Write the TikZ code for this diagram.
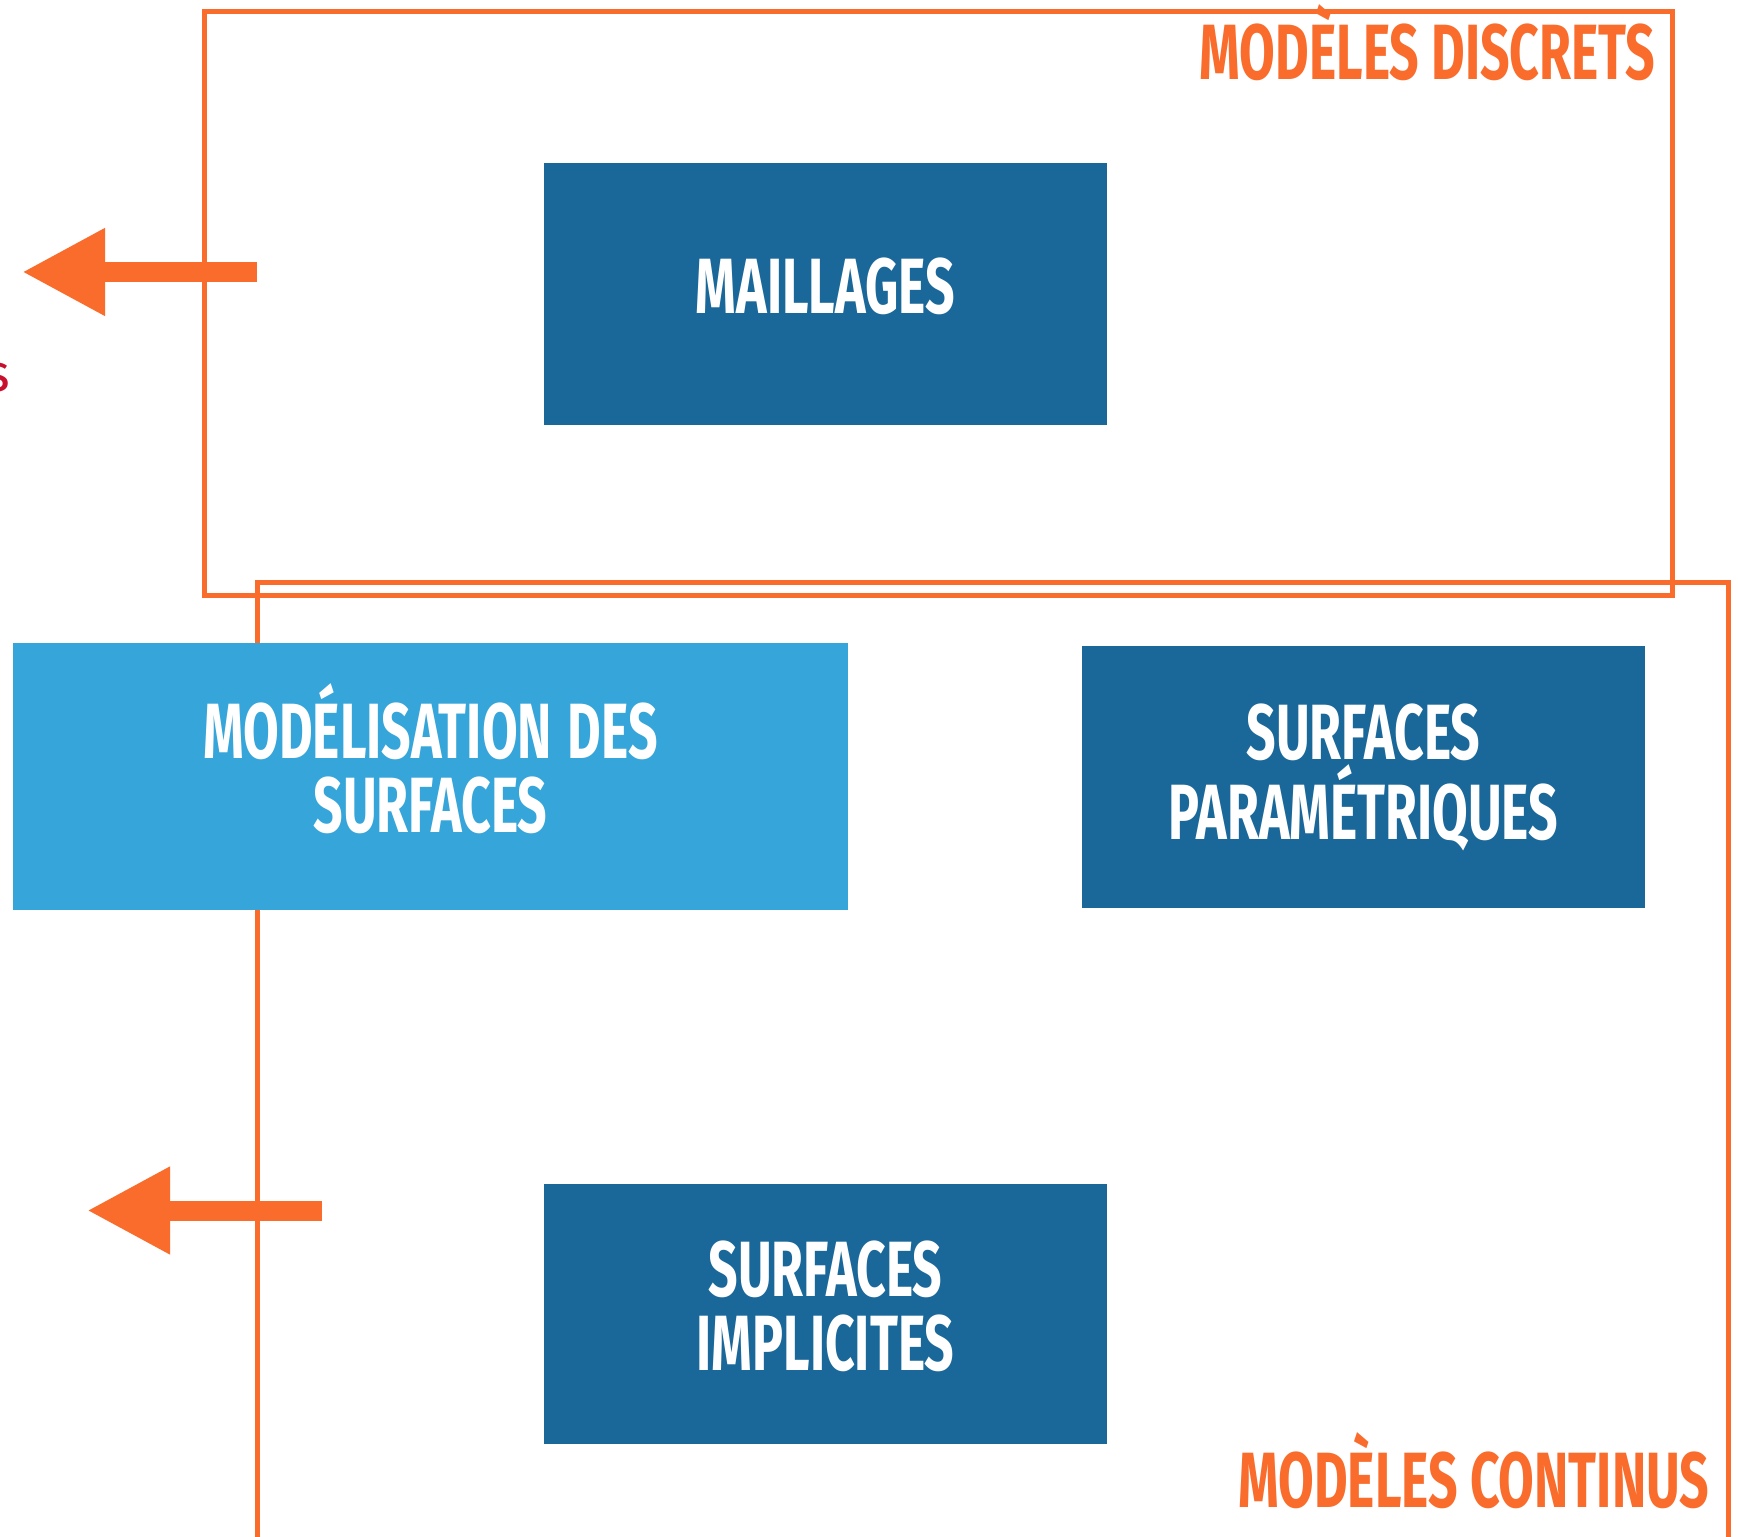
\documentclass[tikz,border=0pt]{standalone}
\usepackage{fontspec}
\setmainfont{Fira Sans}[FakeStretch=0.66]
\newfontfamily\plainsans{Fira Sans}
\usepackage{tikz}
\usetikzlibrary{shapes, arrows.meta, positioning, calc}
\definecolor{darkblue}{HTML}{1A6899}
\definecolor{lightblue}{HTML}{35A5DA}
\definecolor{orangeline}{HTML}{F96C2B}
\definecolor{redtext}{HTML}{C8102E}
\tikzstyle{process} = [rectangle, minimum width=5.63cm, minimum height=2.62cm, inner sep=0pt, align=center, text width=5.4cm, fill=darkblue, text=white, font=\fontsize{22.3}{21}\selectfont\bfseries]
\tikzstyle{oneline} = [text height=10.9pt, text depth=0pt]
\tikzstyle{twoline} = [text height=0pt, text depth=10.1pt]
\tikzstyle{frame} = [draw=orangeline, line width=0.05cm]
\tikzstyle{bigarrow} = [draw=orangeline, line width=0.2cm, -{Triangle[length=0.83cm, width=0.82cm]}]
\tikzstyle{title} = [text=orangeline, inner sep=0pt, anchor=base east, font=\fontsize{22.3}{21}\selectfont\bfseries]

\begin{document}
\begin{tikzpicture}[node distance=0cm]
\useasboundingbox (0,0) rectangle (17.38,-15.37);
\fill[white] (0,0) rectangle (17.38,-15.37);
% frames
\draw[frame] (2.045,-0.115) rectangle (16.72,-5.955);
\draw[frame] (2.575,-15.5) -- (2.575,-5.83) -- (17.28,-5.83) -- (17.28,-15.5);
\node (t1) [title] at (16.56,-0.80) {MODÈLES DISCRETS};
\node (t2) [title] at (17.10,-15.07) {MODÈLES CONTINUS};
\node (s1) [text=redtext, inner sep=0pt, anchor=base, font=\plainsans\fontsize{15}{15}\selectfont] at (-0.02,-3.92) {s};
% boxes
\node (h1) [process, oneline] at (8.255,-2.94) {MAILLAGES};
\node (h2) [process, twoline, below of=h1, xshift=-3.95cm, yshift=-4.825cm, fill=lightblue, minimum width=8.35cm, minimum height=2.67cm, text width=8cm] {MODÉLISATION\hspace{0.2em}DES\\SURFACES};
\node (h3) [process, twoline, below of=h1, xshift=5.38cm, yshift=-4.83cm] {SURFACES\\PARAMÉTRIQUES};
\node (h4) [process, twoline, below of=h1, yshift=-10.2cm, minimum height=2.6cm] {SURFACES\\IMPLICITES};
% arrows
\coordinate (a1) at (2.57,-2.72);
\coordinate (b1) at (0.22,-2.72);
\coordinate (a2) at (3.22,-12.105);
\coordinate (b2) at (0.87,-12.105);
\draw[bigarrow] (a1) -- (b1);
\draw[bigarrow] (a2) -- (b2);
\end{tikzpicture}
\end{document}
